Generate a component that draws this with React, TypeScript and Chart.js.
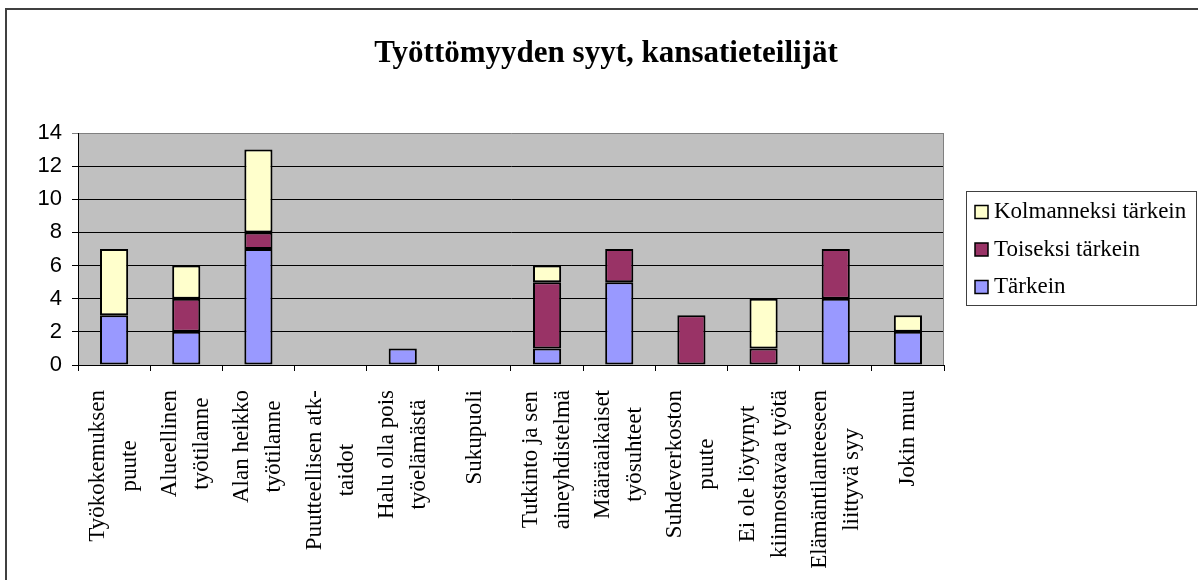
import React, { useEffect, useRef } from "react";
import { Chart, registerables } from "chart.js";

Chart.register(...registerables);

const title = "Työttömyyden syyt, kansatieteilijät";

const categories: string[][] = [
  ["Työkokemuksen", "puute"],
  ["Alueellinen", "työtilanne"],
  ["Alan heikko", "työtilanne"],
  ["Puutteellisen atk-", "taidot"],
  ["Halu olla pois", "työelämästä"],
  ["Sukupuoli"],
  ["Tutkinto ja sen", "aineyhdistelmä"],
  ["Määräaikaiset", "työsuhteet"],
  ["Suhdeverkoston", "puute"],
  ["Ei ole löytynyt", "kiinnostavaa työtä"],
  ["Elämäntilanteeseen", "liittyvä syy"],
  ["Jokin muu"],
];

const seriesNames = ["Tärkein", "Toiseksi tärkein", "Kolmanneksi tärkein"];
const tarkein = [3, 2, 7, 0, 1, 0, 1, 5, 0, 0, 4, 2];
const toiseksi = [0, 2, 1, 0, 0, 0, 4, 2, 3, 1, 3, 0];
const kolmanneksi = [4, 2, 5, 0, 0, 0, 1, 0, 0, 3, 0, 1];
const seriesColors = ["#9999FF", "#993366", "#FFFFCC"];

const yTicksMin = 0;
const yTicksMax = 14;
const yTicksStep = 2;

const SERIF = '"Liberation Serif", "Times New Roman", serif';
const SANS = '"Liberation Sans", Arial, sans-serif';

const decorPlugin = {
  id: "decor",
  beforeDraw(chart: any) {
    const ctx = chart.ctx;
    const a = chart.chartArea;
    ctx.save();
    ctx.strokeStyle = "#404040";
    ctx.lineWidth = 2;
    ctx.beginPath();
    ctx.moveTo(6, 590);
    ctx.lineTo(6, 9);
    ctx.lineTo(1210, 9);
    ctx.stroke();
    ctx.fillStyle = "#C0C0C0";
    ctx.fillRect(a.left, a.top, a.right - a.left, a.bottom - a.top);
    ctx.restore();
  },
  beforeDatasetsDraw(chart: any) {
    const ctx = chart.ctx;
    const a = chart.chartArea;
    ctx.save();
    ctx.strokeStyle = "#808080";
    ctx.lineWidth = 1;
    ctx.beginPath();
    ctx.moveTo(a.right - 0.5, a.top);
    ctx.lineTo(a.right - 0.5, a.bottom);
    ctx.stroke();
    ctx.restore();
  },
  afterDraw(chart: any) {
    const ctx = chart.ctx;
    const xs = chart.scales.x;
    ctx.save();
    ctx.fillStyle = "#000";
    ctx.font = `bold 31px ${SERIF}`;
    ctx.textAlign = "center";
    ctx.textBaseline = "middle";
    ctx.fillText(title, 606, 54);

    ctx.font = `23px ${SERIF}`;
    const spacing = 32;
    const top = 390;
    categories.forEach((lines, i) => {
      const x = xs.getPixelForValue(i);
      const maxW = Math.max(...lines.map((l) => ctx.measureText(l).width));
      ctx.save();
      ctx.translate(x, top);
      ctx.rotate(-Math.PI / 2);
      ctx.textAlign = "center";
      ctx.textBaseline = "middle";
      const n = lines.length;
      lines.forEach((l, j) => {
        ctx.fillText(l, -maxW / 2, (j - (n - 1) / 2) * spacing);
      });
      ctx.restore();
    });

    const lx = 966, ly = 191, lw = 230, lh = 114;
    ctx.strokeStyle = "#404040";
    ctx.lineWidth = 1;
    ctx.strokeRect(lx + 0.5, ly + 0.5, lw, lh);
    const ds = chart.data.datasets;
    const order = [2, 1, 0];
    ctx.font = `23px ${SERIF}`;
    ctx.textAlign = "left";
    ctx.textBaseline = "middle";
    order.forEach((di, r) => {
      const cy = 212 + r * 37.5;
      ctx.fillStyle = ds[di].backgroundColor;
      ctx.fillRect(975, cy - 6.5, 13, 13);
      ctx.strokeStyle = "#000";
      ctx.lineWidth = 1.5;
      ctx.strokeRect(975, cy - 6.5, 13, 13);
      ctx.fillStyle = "#000";
      ctx.fillText(ds[di].label, 994, cy);
    });
    ctx.restore();
  },
};

export default function App() {
  const ref = useRef<HTMLCanvasElement | null>(null);
  useEffect(() => {
    if (!ref.current) return;
    const series = [tarkein, toiseksi, kolmanneksi];
    const chart = new Chart(ref.current, {
      type: "bar",
      data: {
        labels: categories.map((c) => c.join(" ")),
        datasets: series.map((d, i) => ({
          label: seriesNames[i],
          data: d,
          backgroundColor: seriesColors[i],
          borderColor: "#000",
          borderWidth: 2,
          borderSkipped: false,
          barPercentage: 0.39,
          categoryPercentage: 1,
        })),
      },
      options: {
        responsive: false,
        animation: false,
        events: [],
        layout: { padding: { left: 0, top: 133, right: 254, bottom: 0 } },
        plugins: {
          legend: { display: false },
          title: { display: false },
          tooltip: { enabled: false },
        },
        scales: {
          x: {
            stacked: true,
            offset: true,
            grid: {
              offset: true,
              display: true,
              drawOnChartArea: false,
              color: "#000",
              tickLength: 6,
            },
            border: { color: "#000", width: 1 },
            ticks: { display: false },
            afterFit: (s: any) => {
              s.height = 215;
            },
          },
          y: {
            stacked: true,
            min: yTicksMin,
            max: yTicksMax,
            ticks: {
              stepSize: yTicksStep,
              color: "#000",
              font: { family: SANS, size: 22 },
              padding: 10,
            },
            grid: {
              color: (c: any) => (c.tick && c.tick.value === yTicksMax ? "#808080" : "#000"),
              tickLength: 6,
            },
            border: { color: "#000", width: 1 },
            afterFit: (s: any) => {
              s.width = 78;
            },
          },
        },
      },
      plugins: [decorPlugin],
    });
    return () => chart.destroy();
  }, []);
  return (
    <div style={{ position: "absolute", left: 0, top: 0, width: 1198, height: 580, background: "#fff" }}>
      <canvas ref={ref} width={1198} height={580} style={{ display: "block" }} />
    </div>
  );
}
